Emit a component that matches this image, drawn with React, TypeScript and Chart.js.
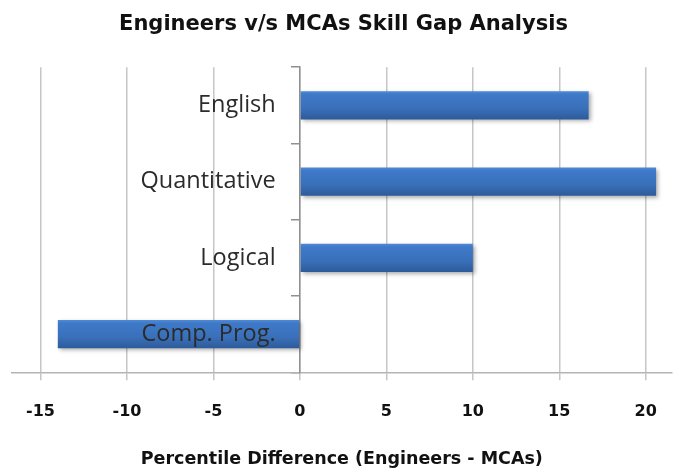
import React, { useEffect, useRef } from 'react';
import { Chart, registerables } from 'chart.js';

Chart.register(...registerables);

const categories = ['English', 'Quantitative', 'Logical', 'Comp. Prog.'];
const differences = [16.7, 20.6, 10, -14];
const xTicks = [-15, -10, -5, 0, 5, 10, 15, 20];
const xMin = -16.65;
const xMax = 21.5;
const labelAnchor = -1.4;

const chartTitle = 'Engineers v/s MCAs Skill Gap Analysis';
const xTitle = 'Percentile Difference (Engineers - MCAs)';

const BAR_PCT = 0.37;

const barFill = (c: any) => {
  const chart = c.chart;
  const ys = chart.scales && chart.scales.y;
  if (c.type !== 'data' || !ys || !chart.chartArea) return '#3A6FB8';
  const center = ys.getPixelForValue(c.dataIndex);
  const half = ((ys.height / categories.length) * BAR_PCT) / 2;
  const g = chart.ctx.createLinearGradient(0, center - half, 0, center + half);
  g.addColorStop(0, '#4E8AD8');
  g.addColorStop(0.12, '#3E79C8');
  g.addColorStop(0.6, '#3A70BA');
  g.addColorStop(1, '#2D5B9A');
  return g;
};

const shadowPlugin = {
  id: 'barShadow',
  beforeDatasetsDraw(chart: any) {
    const ctx = chart.ctx;
    ctx.save();
    ctx.shadowColor = 'rgba(0,0,0,0.32)';
    ctx.shadowBlur = 4;
    ctx.shadowOffsetX = 2;
    ctx.shadowOffsetY = 2;
  },
  afterDatasetsDraw(chart: any) {
    chart.ctx.restore();
  },
};

const BOLD = { family: 'DejaVu Sans', weight: 'bold' as const };

export default function App() {
  const canvasRef = useRef<HTMLCanvasElement | null>(null);

  useEffect(() => {
    document.body.style.margin = '0';
    const canvas = canvasRef.current;
    if (!canvas) return;
    const chart = new Chart(canvas, {
      type: 'bar',
      data: {
        labels: categories,
        datasets: [
          {
            data: differences,
            backgroundColor: barFill,
            borderWidth: 0,
            categoryPercentage: 1,
            barPercentage: BAR_PCT,
            yAxisID: 'y',
          },
        ],
      },
      plugins: [shadowPlugin],
      options: {
        indexAxis: 'y',
        animation: false,
        responsive: true,
        maintainAspectRatio: false,
        layout: { padding: { left: 12, right: 4, top: 0, bottom: 0 } },
        plugins: {
          legend: { display: false },
          tooltip: { enabled: false },
          title: {
            display: true,
            text: chartTitle,
            color: '#111111',
            font: { ...BOLD, size: 21 },
            padding: { top: 12, bottom: 30 },
          },
        },
        scales: {
          x: {
            type: 'linear',
            min: xMin,
            max: xMax,
            afterBuildTicks: (s: any) => {
              s.ticks = xTicks.map((v) => ({ value: v }));
            },
            ticks: {
              color: '#111111',
              font: { ...BOLD, size: 16 },
              padding: 22,
            },
            grid: {
              color: '#c6c6c6',
              lineWidth: 1.5,
              drawTicks: true,
              tickLength: 8,
            },
            border: { color: '#b4b4b4', width: 1.5 },
            title: {
              display: true,
              text: xTitle,
              color: '#111111',
              font: { ...BOLD, size: 17.5 },
              padding: { top: 5, bottom: 5.5 },
            },
          },
          y: {
            type: 'category',
            position: { x: labelAnchor } as any,
            offset: true,
            grid: { display: false, drawTicks: false, drawOnChartArea: false, offset: true },
            border: { display: false },
            ticks: {
              z: 1,
              color: '#2b2b2b',
              font: { family: 'Open Sans', size: 23.5 },
              padding: 0,
            },
          },
          y2: {
            type: 'category',
            position: { x: 0 } as any,
            offset: true,
            grid: {
              drawOnChartArea: false,
              drawTicks: true,
              tickLength: 8,
              color: '#909090',
              lineWidth: 1.5,
              offset: true,
            },
            border: { color: '#909090', width: 1.5 },
            ticks: { display: false },
          },
        },
      } as any,
    });
    return () => chart.destroy();
  }, []);

  return (
    <div style={{ width: 679, height: 475, position: 'relative' }}>
      <canvas ref={canvasRef} />
    </div>
  );
}
